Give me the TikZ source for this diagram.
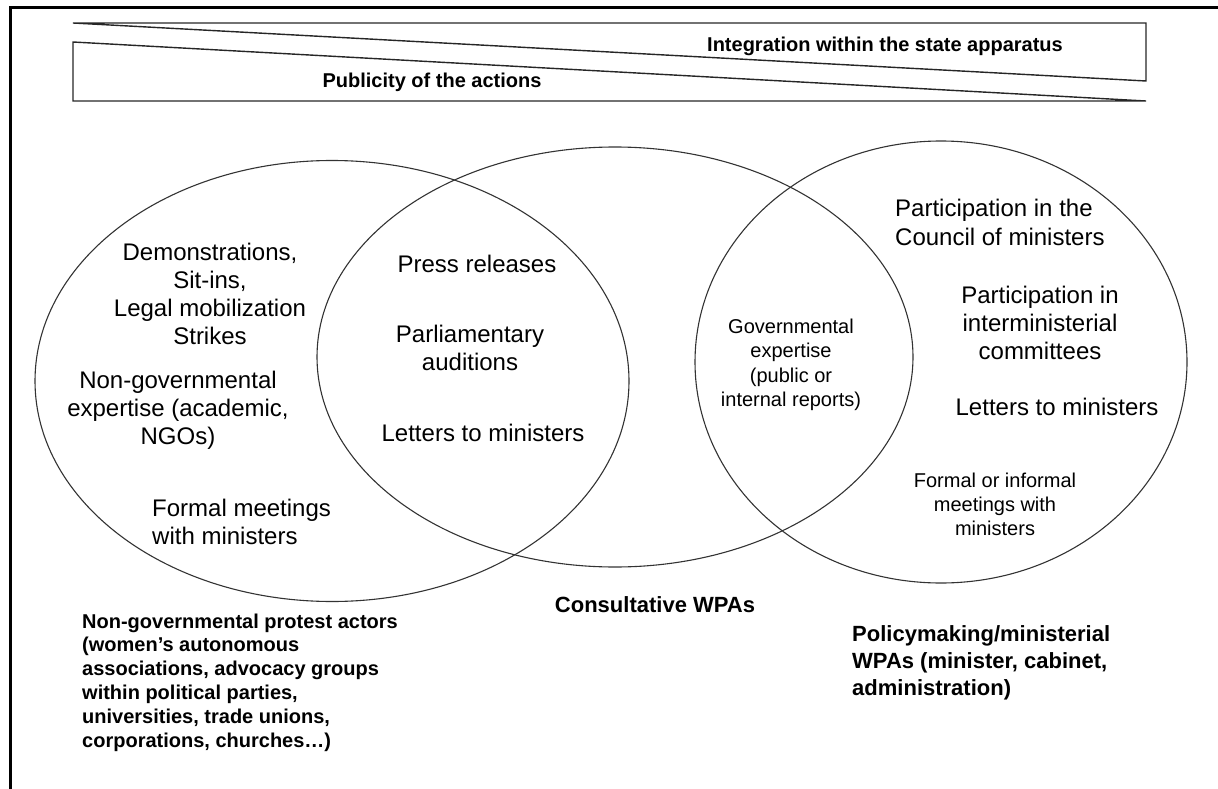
\documentclass[tikz,border=0pt]{standalone}
\usepackage{fontspec}
\setmainfont{Liberation Sans}
\usetikzlibrary{shapes.geometric}

\begin{document}
\begin{tikzpicture}[x=1pt,y=-1pt,
  venn/.style={ellipse,draw=black!80,line width=1.1pt,inner sep=0pt,outer sep=0pt},
  big/.style={font=\fontsize{24}{28}\selectfont,inner sep=0pt,align=center},
  small/.style={font=\fontsize{20}{24.5}\selectfont,inner sep=0pt,align=center},
  lbl/.style={font=\bfseries\fontsize{20}{23.8}\selectfont,inner sep=0pt,align=left},
  biglbl/.style={font=\bfseries\fontsize{22}{27}\selectfont,inner sep=0pt,align=left},
  band/.style={draw=black!85,line width=1.4pt}]
\useasboundingbox (0,0) rectangle (1218,789);
\draw[line width=3pt] (1218,8) -- (10,8) -- (10,789);
% the two wedges on top
\draw[band] (73,23) -- (1146,23) -- (1146,81) -- cycle;
\draw[band] (73,42) -- (1146,101) -- (73,101) -- cycle;
\node[lbl] (integ) at (885,46) {Integration within the state apparatus};
\node[lbl] (publ) at (432,82) {Publicity of the actions};
% the three circles
\node[venn,minimum width=594,minimum height=441] (protest) at (332,381) {};
\node[venn,minimum width=596,minimum height=420] (consult) at (615,357) {};
\node[venn,minimum width=492,minimum height=442] (policy) at (941,362) {};
% left circle
\node[big] (demo) at (210,293.5) {Demonstrations,\\Sit-ins,\\Legal mobilization\\Strikes};
\node[big] (ngexp) at (178,410) {Non-governmental\\expertise (academic,\\NGOs)};
\node[big,anchor=west,align=left] (formal) at (152,522) {Formal meetings\\with ministers};
% middle circle
\node[big] (press) at (477,264) {Press releases};
\node[big] (parl) at (470,348) {Parliamentary\\auditions};
\node[big] (letmid) at (483,433) {Letters to ministers};
% overlap of middle and right
\node[small] (govexp) at (791,365) {Governmental\\expertise\\(public or\\internal reports)};
% right circle
\node[big,anchor=west,align=left,font=\fontsize{24}{29}\selectfont] (council) at (895,222.5) {Participation in the\\Council of ministers};
\node[big] (intermin) at (1040,323) {Participation in\\interministerial\\committees};
\node[big] (letright) at (1057,407) {Letters to ministers};
\node[small,font=\fontsize{20}{24}\selectfont] (informal) at (995,504) {Formal or informal\\meetings with\\ministers};
% captions under the circles
\node[biglbl,align=center] (consultcap) at (655,605) {Consultative WPAs};
\node[lbl,anchor=west] (protestcap) at (82,682.5) {Non-governmental protest actors\\(women’s autonomous\\associations, advocacy groups\\within political parties,\\universities, trade unions,\\corporations, churches…)};
\node[biglbl,anchor=west] (policycap) at (852,663) {Policymaking/ministerial\\WPAs (minister, cabinet,\\administration)};
\end{tikzpicture}
\end{document}
